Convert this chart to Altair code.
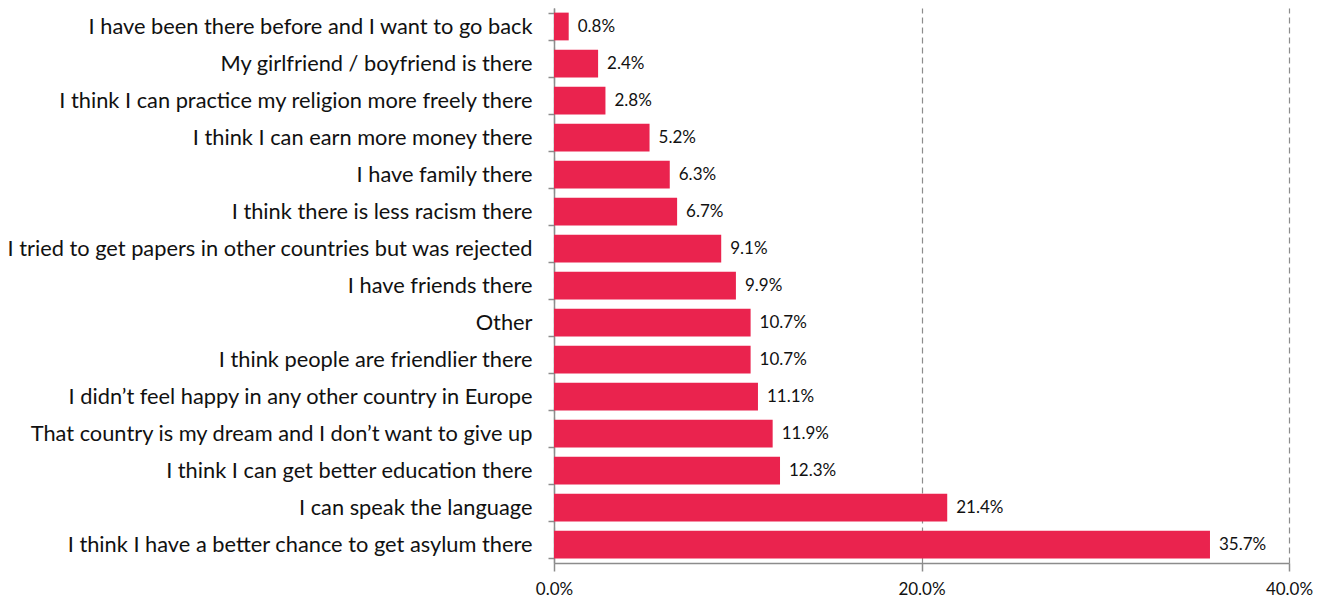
import altair as alt
import pandas as pd

reasons = [
    "I have been there before and I want to go back",
    "My girlfriend / boyfriend is there",
    "I think I can practice my religion more freely there",
    "I think I can earn more money there",
    "I have family there",
    "I think there is less racism there",
    "I tried to get papers in other countries but was rejected",
    "I have friends there",
    "Other",
    "I think people are friendlier there",
    "I didn\u2019t feel happy in any other country in Europe",
    "That country is my dream and I don\u2019t want to give up",
    "I think I can get better education there",
    "I can speak the language",
    "I think I have a better chance to get asylum there",
]
shares = [0.8, 2.4, 2.8, 5.2, 6.3, 6.7, 9.1, 9.9, 10.7, 10.7, 11.1, 11.9, 12.3, 21.4, 35.7]
labels = [f"{v:.1f}%" for v in shares]

df = pd.DataFrame({"reason": reasons, "share": shares, "label": labels})

FONT = "Lato"

y_enc = alt.Y(
    "reason:N",
    sort=reasons,
    title=None,
    scale=alt.Scale(paddingInner=0.25, paddingOuter=0.125),
    axis=alt.Axis(
        labelFont=FONT,
        labelFontSize=21.8,
        labelColor="#111111",
        labelLimit=560,
        labelPadding=16,
        domainColor="#8c8c8c",
        domainWidth=1.5,
        tickColor="#8c8c8c",
        tickSize=6,
        tickWidth=1.5,
        tickBand="extent",
        grid=False,
        minExtent=550,
        maxExtent=550,
    ),
)

x_enc = alt.X(
    "share:Q",
    title=None,
    scale=alt.Scale(domain=[0, 40], nice=False),
    axis=alt.Axis(
        values=[0, 20, 40],
        labelExpr="format(datum.value, '.1f') + '%'",
        labelFont=FONT,
        labelFontSize=17,
        labelColor="#111111",
        labelPadding=10,
        labelFlush=False,
        domainColor="#8c8c8c",
        domainWidth=1.5,
        tickColor="#8c8c8c",
        tickSize=8,
        tickWidth=1.5,
        grid=True,
        gridColor="#8c8c8c",
        gridDash=[6, 4],
        gridWidth=1.2,
    ),
)

bars = alt.Chart(df).mark_bar(color="#EA234E").encode(x=x_enc, y=y_enc)

text = alt.Chart(df).mark_text(
    align="left", baseline="middle", dx=9, font=FONT, fontSize=17, color="#111111"
).encode(
    x=alt.X("share:Q"),
    y=alt.Y("reason:N", sort=reasons),
    text="label:N",
)

chart = (
    (bars + text)
    .properties(
        width=735,
        height=555,
        padding={"left": -4, "top": -10, "right": 5, "bottom": 0},
    )
    .configure_view(stroke=None)
)

chart.save("out.html", embed_options={"renderer": "svg", "actions": False})
